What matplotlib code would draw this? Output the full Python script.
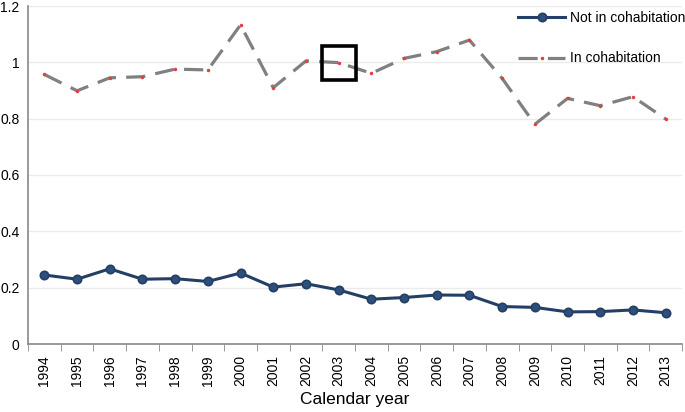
import matplotlib
matplotlib.use("Agg")
import matplotlib.pyplot as plt
import numpy as np

plt.rcParams['font.family'] = ['Liberation Sans', 'DejaVu Sans']

years = ['1994', '1995', '1996', '1997', '1998', '1999', '2000', '2001', '2002', '2003',
         '2004', '2005', '2006', '2007', '2008', '2009', '2010', '2011', '2012', '2013']
not_cohab = [0.245, 0.230, 0.267, 0.230, 0.232, 0.222, 0.252, 0.202, 0.214, 0.192,
             0.159, 0.165, 0.174, 0.173, 0.133, 0.130, 0.114, 0.115, 0.121, 0.111]
in_cohab = [0.957, 0.899, 0.945, 0.949, 0.976, 0.973, 1.133, 0.910, 1.005, 0.999,
            0.961, 1.014, 1.038, 1.079, 0.943, 0.780, 0.872, 0.846, 0.878, 0.799]
highlight_year = '2003'
yticks = [0, 0.2, 0.4, 0.6, 0.8, 1.0, 1.2]
ytick_labels = ['0', '0.2', '0.4', '0.6', '0.8', '1', '1.2']

fig = plt.figure(figsize=(6.85, 4.12), dpi=100)
ax = fig.add_axes([28/685, 1 - 344/412, 654/685, 338/412])

x = np.arange(len(years))

ax.plot(x, not_cohab, color='#243f66', lw=2.2, marker='o', ms=6,
        mfc='#2d4f7c', mec='#243f66', mew=1.2, label='Not in cohabitation', zorder=3)
ax.plot(x, in_cohab, color='#808080', lw=2.3, dashes=(6, 3.2), marker='.', ms=3,
        mfc='#e04040', mec='#e04040', label='In cohabitation', zorder=3)

# highlight box
hi = years.index(highlight_year)
ax.plot([x[hi]], [in_cohab[hi]], marker='s', ms=24, mfc='none', mec='black', mew=2.6,
        ls='none', zorder=4)

ax.set_xlim(-0.5, len(years) - 0.5)
ax.set_ylim(0, 1.2)
ax.set_yticks(yticks)
ax.set_yticklabels(ytick_labels, fontsize=10)
ax.yaxis.grid(True, color='#ebebeb', lw=1)
ax.set_axisbelow(True)

ax.set_xticks(x)
ax.set_xticklabels(years, rotation=90, fontsize=10)
ax.set_xticks(np.arange(-0.5, len(years)), minor=True)
ax.tick_params(axis='x', which='major', length=0, pad=8)
ax.tick_params(axis='x', which='minor', length=5, color='#888888', direction='out')
ax.tick_params(axis='y', length=0, pad=6)

for s in ['top', 'right']:
    ax.spines[s].set_visible(False)
for s in ['left', 'bottom']:
    ax.spines[s].set_color('#888888')
    ax.spines[s].set_linewidth(1.2)

ax.set_xlabel('Calendar year', fontsize=12.5, labelpad=4)

ax.legend(loc='upper left', bbox_to_anchor=(518/685, 1 - 11/412),
          bbox_transform=fig.transFigure, frameon=False, fontsize=10,
          handlelength=3.4, handletextpad=0.35, labelspacing=1.9,
          borderpad=0, borderaxespad=0)

fig.savefig('out.png', dpi=100)
